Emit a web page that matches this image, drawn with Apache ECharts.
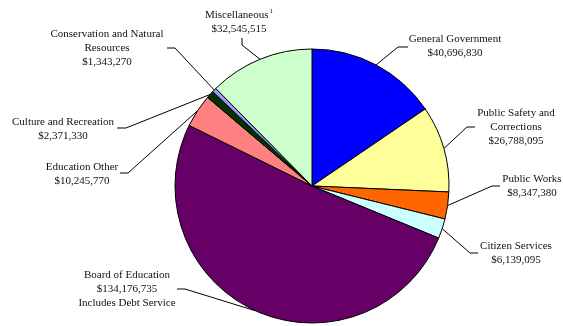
<!DOCTYPE html>
<html>
<head>
<meta charset="utf-8">
<script src="https://cdn.jsdelivr.net/npm/echarts@6/dist/echarts.min.js"></script>
<style>
html,body{margin:0;padding:0;background:#fff;}
#chart{width:563px;height:326px;}
</style>
</head>
<body>
<div id="chart"></div>
<script>
// ---- data ----
const categories = [
  "General Government",
  "Public Safety and\nCorrections",
  "Public Works",
  "Citizen Services",
  "Board of Education",
  "Education Other",
  "Culture and Recreation",
  "Conservation and Natural\nResources",
  "Miscellaneous"
];
const values = [40696830, 26788095, 8347380, 6139095, 134176735, 10245770, 2371330, 1343270, 32545515];
const notes = ["", "", "", "", "Includes Debt Service", "", "", "", ""];
const superscripts = ["", "", "", "", "", "", "", "", "1"];
const colors = ["#0000FF", "#FFFF99", "#FF6600", "#CCFFFF", "#660066", "#FF8080", "#003300", "#9999FF", "#CCFFCC"];

// ---- label layout (text centre, leader elbow, leader end) ----
const labelPlacement = [
  {x: 455, y: 46,  elbow: [398, 47],  end: [408, 47]},
  {x: 516, y: 127, elbow: [467, 127], end: [475, 127]},
  {x: 532, y: 186, elbow: [492, 186], end: [500, 186]},
  {x: 516, y: 253, elbow: [470, 253], end: [478, 253]},
  {x: 127, y: 289, elbow: [185, 289], end: [177, 289]},
  {x: 82,  y: 174, elbow: [128, 173], end: [120, 173]},
  {x: 63,  y: 129, elbow: [126, 128], end: [117, 128]},
  {x: 107, y: 48,  elbow: [175, 48],  end: [167, 48]},
  {x: 239, y: 22,  elbow: [242, 45],  end: [242, 38]}
];

function fmtMoney(v) {
  return "$" + v.toString().replace(/\B(?=(\d{3})+(?!\d))/g, ",");
}

const chart = echarts.init(document.getElementById('chart'), null, {renderer: 'canvas'});
const data = categories.map((c, i) => ({
  name: c,
  value: values[i],
  itemStyle: {color: colors[i]}
}));

chart.setOption({
  animation: false,
  backgroundColor: '#ffffff',
  series: [{
    type: 'pie',
    center: [312, 186],
    radius: [0, 137],
    startAngle: 90,
    clockwise: true,
    avoidLabelOverlap: false,
    data: data,
    itemStyle: {borderColor: '#000', borderWidth: 1},
    label: {
      show: true,
      position: 'outside',
      fontFamily: 'Liberation Serif',
      fontSize: 11,
      lineHeight: 14,
      color: '#111',
      align: 'center',
      formatter: function (p) {
        const i = p.dataIndex;
        const nameLines = categories[i].split('\n');
        let first = nameLines.map((l, k) => (k === nameLines.length - 1 && superscripts[i]) ? (l + '{sup|' + superscripts[i] + '}') : l).join('\n');
        let s = first + '\n' + fmtMoney(values[i]);
        if (notes[i]) s += '\n' + notes[i];
        return s;
      },
      rich: {
        sup: {fontSize: 7, fontFamily: 'Liberation Serif', color: '#111', verticalAlign: 'top', lineHeight: 8, padding: [0, 0, 6, 1]}
      }
    },
    labelLine: {
      show: true,
      lineStyle: {color: '#000', width: 1}
    },
    labelLayout: function (params) {
      const pl = labelPlacement[params.dataIndex];
      const start = params.labelLinePoints ? params.labelLinePoints[0] : pl.elbow;
      return {
        x: pl.x,
        y: pl.y,
        align: 'center',
        verticalAlign: 'middle',
        labelLinePoints: [start, pl.elbow, pl.end]
      };
    }
  }]
});
</script>
</body>
</html>
